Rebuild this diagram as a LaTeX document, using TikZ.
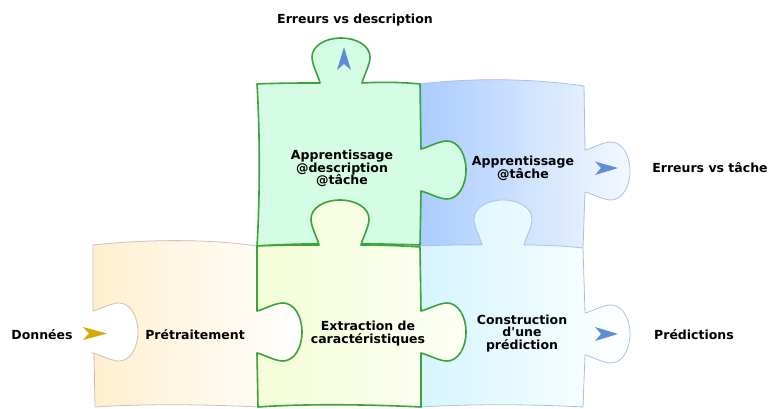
\documentclass[tikz,border=0pt]{standalone}
\usepackage{fontspec}
\setmainfont{DejaVu Sans}[Ligatures=TeXOff]
\usepackage{tikz}

\definecolor{greenline}{HTML}{3AA33A}
\definecolor{blueline}{HTML}{A8C0E6}
\definecolor{greyline}{HTML}{CBBFBF}
\definecolor{mint}{HTML}{D5FDE5}
\definecolor{skyblue}{HTML}{AACCFF}
\definecolor{paleblue}{HTML}{F4F8FF}
\definecolor{cyanfill}{HTML}{D5F5FF}
\definecolor{orangefill}{HTML}{FFEFCF}
\definecolor{limefill}{HTML}{F3FDD6}
\definecolor{limeend}{HTML}{FDFFF4}
\definecolor{arrowblue}{HTML}{5F8DD3}
\definecolor{arrowgold}{HTML}{D4AA00}

% tab sticking up (left to right), neck centre #1, edge #2
\newcommand{\tabup}[2]{-- ({#1-21},{#2}) .. controls ({#1-23},{#2-8}) and ({#1-29},{#2-18}) .. ({#1-29},{#2-26}) .. controls ({#1-29},{#2-37}) and ({#1-16},{#2-45}) .. ({#1},{#2-45}) .. controls ({#1+16},{#2-45}) and ({#1+29},{#2-37}) .. ({#1+29},{#2-26}) .. controls ({#1+29},{#2-18}) and ({#1+23},{#2-8}) .. ({#1+21},{#2})}
% tab sticking right (top to bottom), edge #1, neck centre #2
\newcommand{\tabright}[2]{-- ({#1},{#2-21}) .. controls ({#1+8},{#2-23}) and ({#1+18},{#2-29}) .. ({#1+26},{#2-29}) .. controls ({#1+37},{#2-29}) and ({#1+45},{#2-16}) .. ({#1+45},{#2}) .. controls ({#1+45},{#2+16}) and ({#1+37},{#2+29}) .. ({#1+26},{#2+29}) .. controls ({#1+18},{#2+29}) and ({#1+8},{#2+23}) .. ({#1},{#2+21})}
% same hole, bottom to top
\newcommand{\tabback}[2]{-- ({#1},{#2+21}) .. controls ({#1+8},{#2+23}) and ({#1+18},{#2+29}) .. ({#1+26},{#2+29}) .. controls ({#1+37},{#2+29}) and ({#1+45},{#2+16}) .. ({#1+45},{#2}) .. controls ({#1+45},{#2-16}) and ({#1+37},{#2-29}) .. ({#1+26},{#2-29}) .. controls ({#1+18},{#2-29}) and ({#1+8},{#2-23}) .. ({#1},{#2-21})}

\tikzset{
  greenpiece/.style={draw=greenline, line width=1.6pt, line join=round},
  bluepiece/.style={draw=blueline, line width=0.8pt, line join=round},
  lbl/.style={font=\fontsize{12.5}{12.7}\selectfont\bfseries, align=center, inner sep=0pt},
}

\begin{document}
\begin{tikzpicture}[x=1pt,y=-1pt]
	\useasboundingbox (0,0) rectangle (771,409);
	% apprentissage tache
	\draw[bluepiece, left color=skyblue, right color=paleblue] (420,84) .. controls (470,78) and (530,78) .. (584,86) -- (585,150) \tabright{585}{171} -- (583,248) .. controls (530,244) and (470,244) .. (420,246) -- cycle;
	% apprentissage description
	\draw[greenpiece, fill=mint] (257,84) .. controls (280,83) and (300,83) .. (320,83) \tabup{341}{83} .. controls (380,82) and (400,82) .. (420,84) -- (421,149) \tabright{421}{170} -- (420,245) .. controls (360,243) and (300,243) .. (257,246) .. controls (260,200) and (260,130) .. (257,84) -- cycle;
	% construction
	\draw[bluepiece, left color=cyanfill, right color=white] (420,246) .. controls (440,245) and (460,245) .. (482,245) \tabup{503}{245} .. controls (545,245) and (565,246) .. (583,248) -- (585,313) \tabright{585}{334} -- (583,407) .. controls (530,404) and (470,404) .. (420,407) -- cycle;
	% pretraitement
	\draw[draw=greyline, line width=0.8pt, left color=orangefill, right color=white] (93,245) .. controls (150,239) and (210,239) .. (257,246) -- (257,311) \tabright{257}{332} -- (258,407) .. controls (200,404) and (140,404) .. (95,407) -- (94,353) \tabback{93}{332} -- cycle;
	% extraction
	\draw[greenpiece, left color=limefill, right color=limeend] (257,246) .. controls (280,245) and (300,245) .. (319,245) \tabup{340}{245} .. controls (385,245) and (405,246) .. (420,247) -- (421,311) \tabright{421}{332} -- (421,407) .. controls (360,404) and (300,404) .. (258,407) -- (257,353) \tabback{257}{332} -- cycle;

	% fleches
	\fill[arrowgold] (83,327) -- (107,333.5) -- (83,340) -- (89,333.5) -- cycle;
	\fill[arrowblue] (344,47) -- (351,70) -- (344,64) -- (337,70) -- cycle;
	\fill[arrowblue] (595,161.5) -- (618,168) -- (595,175) -- (601,168) -- cycle;
	\fill[arrowblue] (595,327) -- (618,334) -- (595,341) -- (601,334) -- cycle;

	% textes
	\node[lbl] (erreursdesc) at (355,20) {Erreurs vs description};
	\node[lbl] (donnees) at (42,335) {Données};
	\node[lbl] (erreurstache) at (710,168) {Erreurs vs tâche};
	\node[lbl] (predictions) at (694,335) {Prédictions};
	\node[lbl] (pretraitement) at (195,335) {Prétraitement};
	\node[lbl] (extraction) at (368,333.5) {Extraction de\\caractéristiques};
	\node[lbl] (construction) at (522,333.5) {Construction\\d'une\\prédiction};
	\node[lbl] (apprdesc) at (342,168.5) {Apprentissage\\@description\\@tâche};
	\node[lbl] (apprtache) at (523,168) {Apprentissage\\@tâche};
\end{tikzpicture}
\end{document}
